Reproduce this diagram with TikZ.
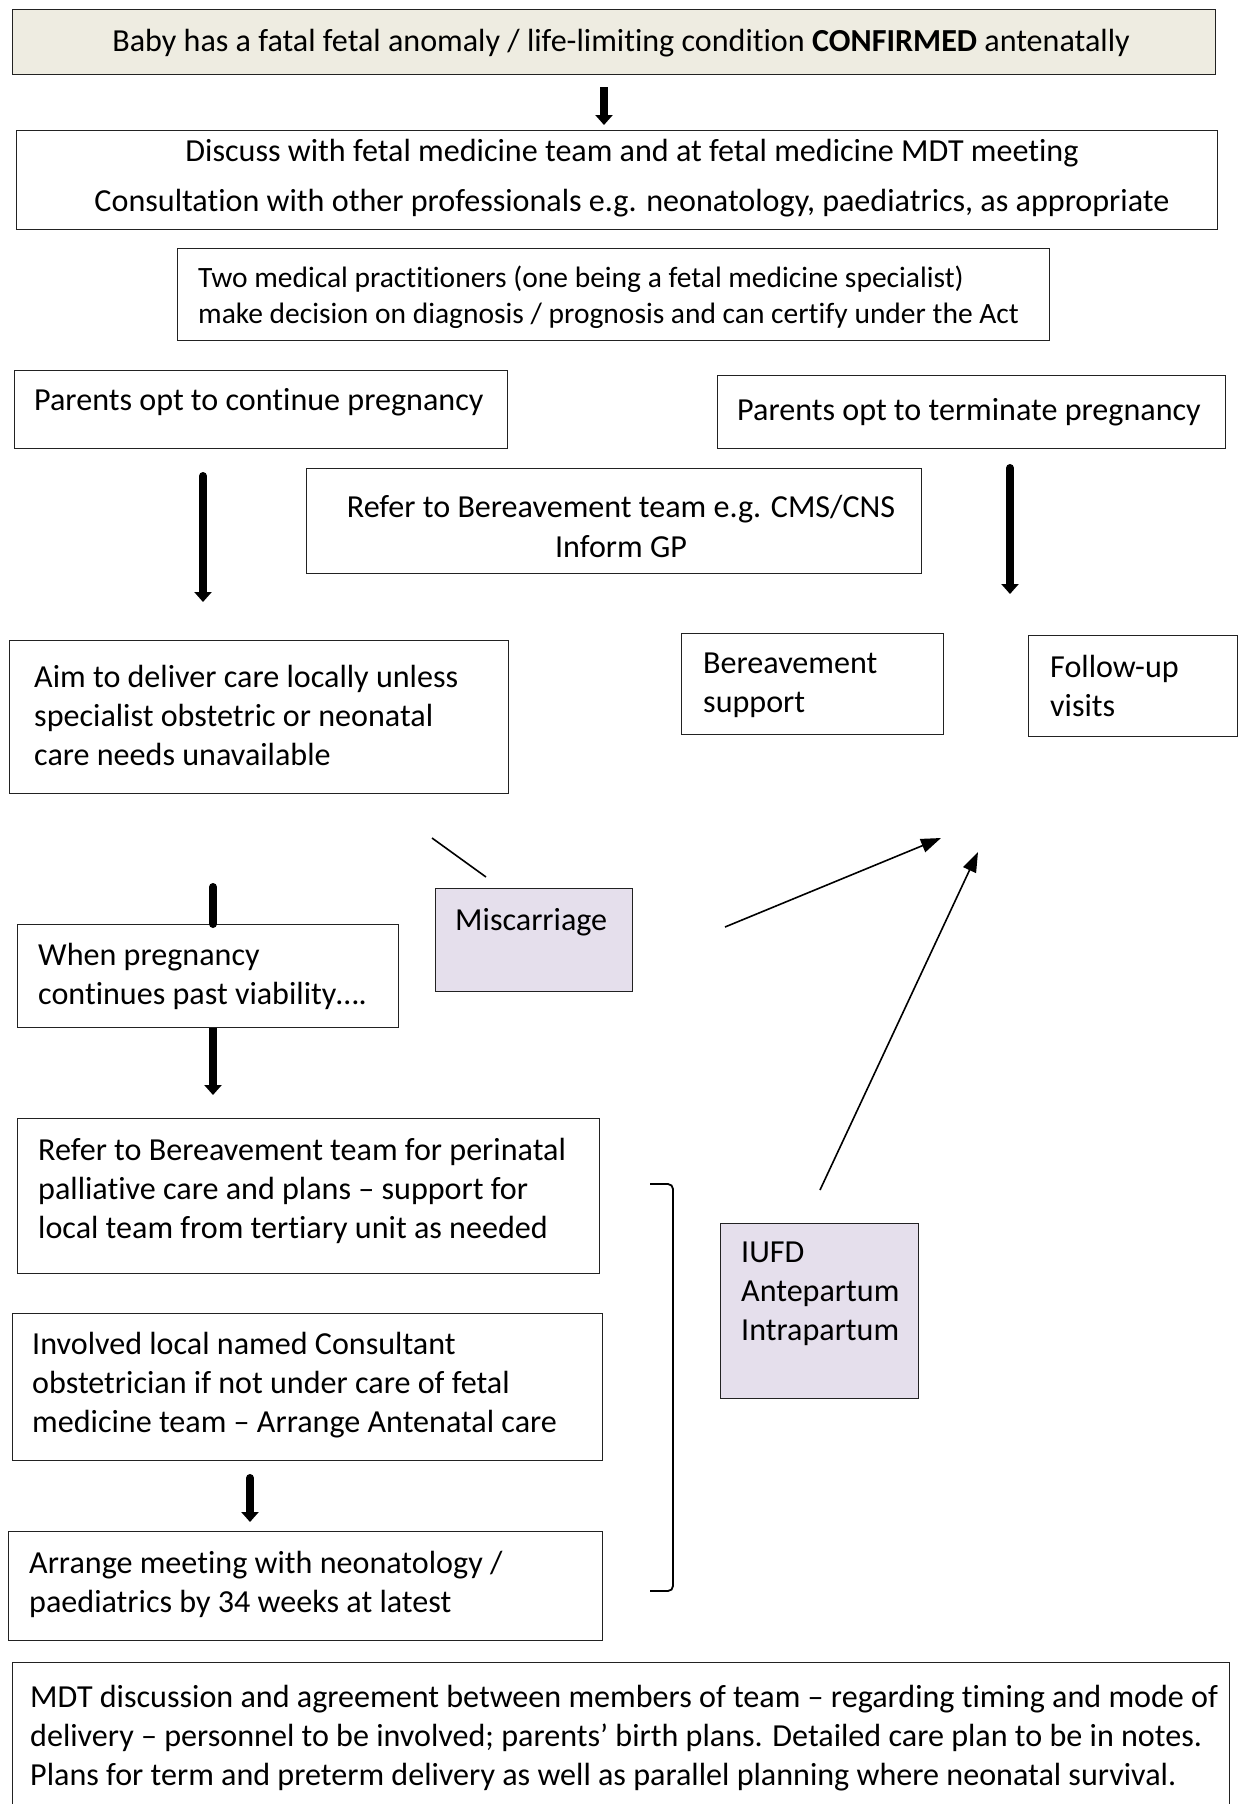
\documentclass[tikz,border=0pt]{standalone}
\usepackage{fontspec}
\setmainfont{Carlito}[Ligatures={TeX,NoCommon}]
\usetikzlibrary{arrows.meta,calc}
\definecolor{tanbg}{HTML}{EEECE1}
\definecolor{lav}{HTML}{E5DFEC}
\definecolor{edge}{HTML}{222222}
\tikzset{
  boxnode/.style={draw=edge,line width=1.3pt,inner sep=0pt,anchor=north west},
  txt/.style={inner sep=0pt,anchor=west,align=left,font=\fontsize{32.1}{39}\selectfont},
  ctxt/.style={inner sep=0pt,anchor=center,align=center,font=\fontsize{32.1}{39}\selectfont},
  fat/.style={line width=8pt,-{Triangle[width=17pt,length=10pt]}},
  fatline/.style={line width=8pt,line cap=round},
  thin/.style={line width=1.6pt,-{Triangle[width=14pt,length=20pt]}}
}
\newcommand{\bx}[6]{\node[boxnode,#6,minimum width=#4pt-#2pt,minimum height=#5pt-#3pt] (#1) at (#2,#3) {};}
\begin{document}
\begin{tikzpicture}[x=1pt,y=-1pt]
\useasboundingbox (0,0) rectangle (1239,1804);
\clip (0,0) rectangle (1239,1804);
\fill[white] (0,0) rectangle (1239,1804);
% boxes
\bx{top}{12}{9}{1215}{74}{fill=tanbg}
\bx{disc}{16}{130}{1217}{229}{fill=white}
\bx{two}{177}{248}{1049}{340}{fill=white}
\bx{cont}{14}{370}{507}{448}{fill=white}
\bx{term}{717}{375}{1225}{448}{fill=white}
\bx{refer}{306}{468}{921}{573}{fill=white}
\bx{aim}{9}{640}{508}{793}{fill=white}
\bx{bsup}{681}{633}{943}{734}{fill=white}
\bx{fup}{1028}{635}{1237}{736}{fill=white}
\bx{misc}{435}{888}{632}{991}{fill=lav}
\bx{when}{17}{924}{398}{1027}{fill=white}
\bx{perin}{17}{1118}{599}{1273}{fill=white}
\bx{inv}{12}{1313}{602}{1460}{fill=white}
\bx{arr}{8}{1531}{602}{1640}{fill=white}
\bx{iufd}{720}{1223}{918}{1398}{fill=lav}
\bx{mdt}{12}{1662}{1229}{1830}{fill=white}
% texts
\node[ctxt] (topt) at (621,43) {Baby has a fatal fetal anomaly / life-limiting condition \textbf{CONFIRMED} antenatally};
\node[ctxt,font=\fontsize{32.1}{50}\selectfont] (disct) at (632,178) {Discuss with fetal medicine team and at fetal medicine MDT meeting\\Consultation with other professionals e.g. neonatology, paediatrics, as appropriate};
\node[txt,font=\fontsize{29.5}{36}\selectfont] (twot) at (198,297) {Two medical practitioners (one being a fetal medicine specialist)\\make decision on diagnosis / prognosis and can certify under the Act};
\node[txt] (contt) at (34,402) {Parents opt to continue pregnancy};
\node[txt] (termt) at (737,412) {Parents opt to terminate pregnancy};
\node[ctxt,font=\fontsize{32.1}{40}\selectfont] (refert) at (621,526) {Refer to Bereavement team e.g. CMS/CNS\\Inform GP};
\node[txt] (aimt) at (34,715) {Aim to deliver care locally unless\\specialist obstetric or neonatal\\care needs unavailable};
\node[txt] (bsupt) at (703,685) {Bereavement\\support};
\node[txt] (fupt) at (1050,686) {Follow-up\\visits};
\node[txt] (misct) at (455,922) {Miscarriage};
\node[txt] (whent) at (38,976) {When pregnancy\\continues past viability\dots.};
\node[txt] (perint) at (38,1191) {Refer to Bereavement team for perinatal\\palliative care and plans – support for\\local team from tertiary unit as needed};
\node[txt] (invt) at (32,1385) {Involved local named Consultant\\obstetrician if not under care of fetal\\medicine team – Arrange Antenatal care};
\node[txt] (arrt) at (29,1584) {Arrange meeting with neonatology /\\paediatrics by 34 weeks at latest};
\node[txt] (iufdt) at (741,1294) {IUFD\\Antepartum\\Intrapartum};
\node[txt] (mdtt) at (30,1738) {MDT discussion and agreement between members of team – regarding timing and mode of\\delivery – personnel to be involved; parents’ birth plans. Detailed care plan to be in notes.\\Plans for term and preterm delivery as well as parallel planning where neonatal survival.};
% thick arrows
\coordinate (a1s) at (604,87);
\coordinate (a1e) at (604,125);
\draw[fat] (a1s) -- (a1e);
\coordinate (a2s) at (203,476);
\coordinate (a2e) at (203,602);
\draw[fat,line cap=round] (a2s) -- (a2e);
\coordinate (a3s) at (1010,468);
\coordinate (a3e) at (1010,594);
\draw[fat,line cap=round] (a3s) -- (a3e);
\coordinate (a4s) at (213,887);
\draw[fatline] (a4s) -- (a4s |- when.north);
\coordinate (a5e) at (213,1095);
\draw[fat] (when.south -| a5e) -- (a5e);
\coordinate (a6s) at (250,1478);
\coordinate (a6e) at (250,1522);
\draw[fat,line cap=round] (a6s) -- (a6e);
% thin lines
\coordinate (l1s) at (432,838);
\coordinate (l1e) at (486,877);
\draw[line width=1.6pt] (l1s) -- (l1e);
\coordinate (m1s) at (725,927);
\coordinate (m1e) at (941,838);
\draw[thin] (m1s) -- (m1e);
\coordinate (i1s) at (820,1190);
\coordinate (i1e) at (978,852);
\draw[thin] (i1s) -- (i1e);
% bracket
\coordinate (brt) at (650,1184);
\coordinate (brb) at (650,1591);
\draw[line width=1.8pt] (brt) -- (668,1184) to[out=0,in=90] (673,1189) -- (673,1586) to[out=-90,in=0] (668,1591) -- (brb);
\end{tikzpicture}
\end{document}
